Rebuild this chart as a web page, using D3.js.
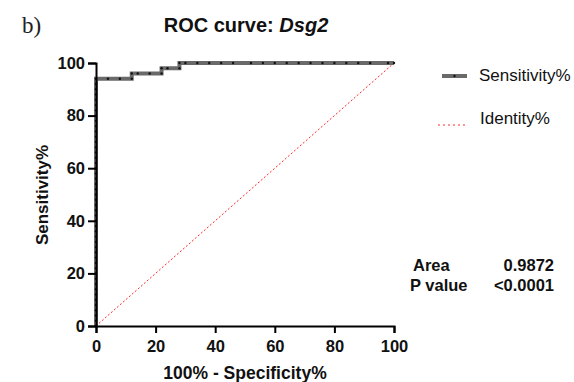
<!DOCTYPE html>
<html><head><meta charset="utf-8">
<script src="https://cdn.jsdelivr.net/npm/d3@7"></script>
<style>body{margin:0;background:#fff}svg{display:block}</style>
</head><body><svg id="c" width="574" height="382"></svg>
<script>
const xTicks = [0,20,40,60,80,100];
const yTicks = [0,20,40,60,80,100];
// ROC points: [100% - Specificity%, Sensitivity%]
const rocX = [0,0,0,0,0,0,0,0,0,0,0,0,0,0,0,0,0,0,0,0,0,0,0,0,0,0,0,0,0,0,0,0,0,0,0,0,0,0,0,0,0,0,0,0,0,0,0,0,4,8,12,12,14,18,22,22,24,28,28,30,34,38,42,46,52,56,60,64,68,72,76,80,84,88,92,98,100];
const rocY = [0,2,4,6,8,10,12,14,16,18,20,22,24,26,28,30,32,34,36,38,40,42,44,46,48,50,52,54,56,58,60,62,64,66,68,70,72,74,76,78,80,82,84,86,88,90,92,94,94,94,94,96,96,96,96,98,98,98,100,100,100,100,100,100,100,100,100,100,100,100,100,100,100,100,100,100,100];
const identityX = [0,100];
const identityY = [0,100];
const legendLabels = ["Sensitivity%","Identity%"];
const statLabels = ["Area","P value"];
const statValues = ["0.9872","<0.0001"];

const svg = d3.select("#c");
const x = d3.scaleLinear().domain([0,100]).range([96,394]);
const y = d3.scaleLinear().domain([0,100]).range([326,63]);
const font = "Arial, 'Liberation Sans', sans-serif";

// identity
svg.append("path")
  .datum(identityX.map((v,i)=>[v,identityY[i]]))
  .attr("d", d3.line().x(d=>x(d[0])).y(d=>y(d[1])))
  .attr("fill","none").attr("stroke","#ff2a2a").attr("stroke-width",1)
  .attr("stroke-dasharray","2,2");

// ROC
const roc = rocX.map((v,i)=>[v,rocY[i]]);
svg.append("path").datum(roc)
  .attr("d", d3.line().x(d=>x(d[0])).y(d=>y(d[1])))
  .attr("fill","none").attr("stroke","#6a6a6a").attr("stroke-width",4);
svg.append("g").selectAll("circle").data(roc).join("circle")
  .attr("cx",d=>x(d[0])).attr("cy",d=>y(d[1])).attr("r",1.2).attr("fill","#111");

// axes
const xa = svg.append("g").attr("transform","translate(0,326)")
  .call(d3.axisBottom(x).tickValues(xTicks).tickSize(7).tickPadding(7));
const ya = svg.append("g").attr("transform","translate(96,0)")
  .call(d3.axisLeft(y).tickValues(yTicks).tickSize(8).tickPadding(3));
[xa,ya].forEach(a=>{
  a.select(".domain").attr("stroke","#000").attr("stroke-width",2);
  a.selectAll(".tick line").attr("stroke","#000").attr("stroke-width",2);
  a.selectAll("text").attr("fill","#111").attr("font-family",font)
   .attr("font-weight","bold").attr("font-size",16.5);
});

// titles
svg.append("text").attr("x",245).attr("y",379).attr("text-anchor","middle")
  .attr("font-family",font).attr("font-weight","bold").attr("font-size",17.5).attr("fill","#111")
  .text("100% - Specificity%");
svg.append("text").attr("transform","translate(48,195) rotate(-90)").attr("text-anchor","middle")
  .attr("font-family",font).attr("font-weight","bold").attr("font-size",17).attr("fill","#111")
  .text("Sensitivity%");
const t = svg.append("text").attr("x",246).attr("y",32).attr("text-anchor","middle")
  .attr("font-family",font).attr("font-weight","bold").attr("font-size",20).attr("fill","#111");
t.append("tspan").text("ROC curve: ");
t.append("tspan").attr("font-style","italic").text("Dsg2");
svg.append("text").attr("x",22).attr("y",33).attr("font-family","'Liberation Serif', 'DejaVu Serif', serif")
  .attr("font-size",23).attr("fill","#222").text("b)");

// legend
svg.append("line").attr("x1",442).attr("x2",467).attr("y1",76).attr("y2",76)
  .attr("stroke","#6a6a6a").attr("stroke-width",4);
svg.append("circle").attr("cx",454.5).attr("cy",76).attr("r",1.2).attr("fill","#111");
svg.append("line").attr("x1",438).attr("x2",466).attr("y1",125).attr("y2",125)
  .attr("stroke","#ff2a2a").attr("stroke-width",1).attr("stroke-dasharray","2,3");
svg.selectAll(".lg").data(legendLabels).join("text").attr("class","lg")
  .attr("x",(d,i)=>i?480:479).attr("y",(d,i)=>i?124:81)
  .attr("font-family",font).attr("font-size",17).attr("fill","#111").text(d=>d);

// stats
svg.selectAll(".sl").data(statLabels).join("text").attr("class","sl")
  .attr("x",(d,i)=>i?410:413).attr("y",(d,i)=>271+i*20)
  .attr("font-family",font).attr("font-weight","bold").attr("font-size",16.5).attr("fill","#111").text(d=>d);
svg.selectAll(".sv").data(statValues).join("text").attr("class","sv")
  .attr("x",554).attr("y",(d,i)=>271+i*20).attr("text-anchor","end")
  .attr("font-family",font).attr("font-weight","bold").attr("font-size",16.5).attr("fill","#111").text(d=>d);
</script></body></html>
